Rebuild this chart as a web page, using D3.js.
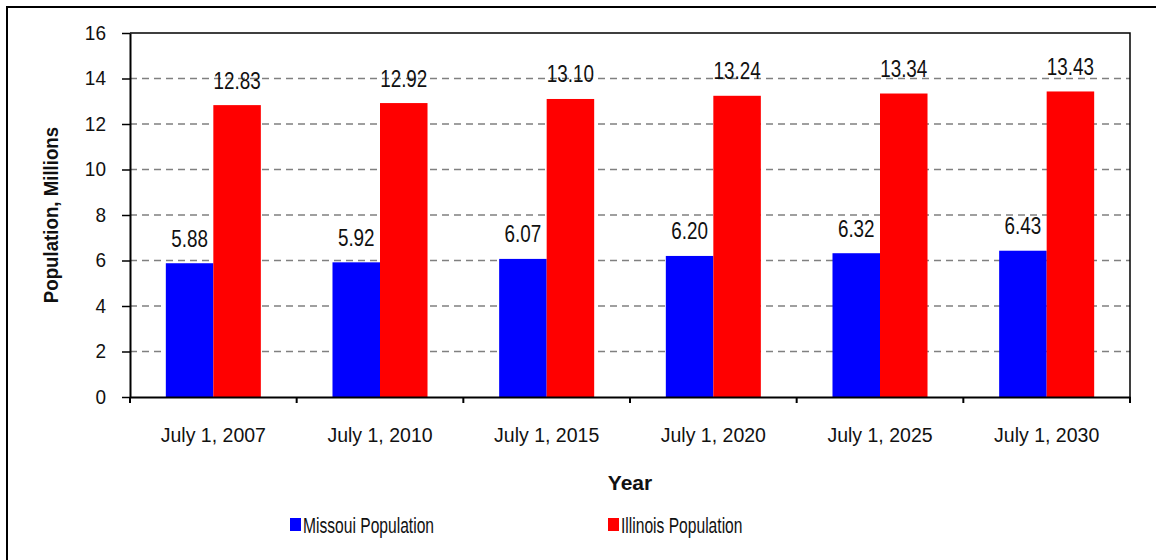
<!DOCTYPE html>
<html>
<head>
<meta charset="utf-8">
<script src="https://cdn.jsdelivr.net/npm/d3@7"></script>
<style>
  body { margin: 0; background: #fff; }
  svg text { font-family: "Liberation Sans", Arial, sans-serif; fill: #111; }
  .axis path, .axis line { stroke: #000; }
</style>
</head>
<body>
<div id="chart"></div>
<script>
var years = ["July 1, 2007", "July 1, 2010", "July 1, 2015", "July 1, 2020", "July 1, 2025", "July 1, 2030"];
var seriesNames = ["Missoui Population", "Illinois Population"];
var missouri = [5.88, 5.92, 6.07, 6.20, 6.32, 6.43];
var illinois = [12.83, 12.92, 13.10, 13.24, 13.34, 13.43];
var yTicks = [0, 2, 4, 6, 8, 10, 12, 14, 16];
var colors = ["#0000ff", "#ff0000"];

var width = 1156, height = 560;
var margin = {top: 33, right: 26, bottom: 163, left: 130};
var graphWidth = width - margin.left - margin.right;
var graphHeight = height - margin.top - margin.bottom;

var rows = years.map(function(y, i) {
  return {year: y, values: [missouri[i], illinois[i]]};
});

var svg = d3.select("#chart").append("svg")
  .attr("width", width)
  .attr("height", height);

// outer frame (only top/left edges fall inside the picture)
svg.append("rect")
  .attr("x", 7).attr("y", 7)
  .attr("width", width + 20).attr("height", height + 20)
  .attr("fill", "none")
  .attr("stroke", "#000")
  .attr("stroke-width", 2);

var g = svg.append("g")
  .attr("transform", "translate(" + margin.left + "," + margin.top + ")");

var x = d3.scaleBand()
  .domain(years)
  .range([0, graphWidth])
  .paddingInner(0);

var xs = d3.scaleBand()
  .domain(seriesNames)
  .range([0, x.bandwidth()])
  .paddingInner(0)
  .paddingOuter(0.754);

var y = d3.scaleLinear()
  .domain([0, 16])
  .range([graphHeight, 0]);

// dashed gridlines
g.selectAll(".grid")
  .data(yTicks.filter(function(d) { return d > 0 && d < 16; }))
  .enter().append("line")
  .attr("class", "grid")
  .attr("x1", 0).attr("x2", graphWidth)
  .attr("y1", d => y(d)).attr("y2", d => y(d))
  .attr("stroke", "#808080")
  .attr("stroke-width", 1.5)
  .attr("stroke-dasharray", "7,5");

// top / right plot border
g.append("path")
  .attr("d", "M0," + y(16) + "H" + graphWidth + "V" + graphHeight)
  .attr("fill", "none")
  .attr("stroke", "#000")
  .attr("stroke-width", 1.5);

// bars
var groups = g.selectAll(".yearGroup")
  .data(rows)
  .enter().append("g")
  .attr("class", "yearGroup")
  .attr("transform", d => "translate(" + x(d.year) + ",0)");

groups.selectAll("rect")
  .data(d => d.values.map((v, i) => ({name: seriesNames[i], value: v, i: i})))
  .enter().append("rect")
  .attr("x", d => xs(d.name))
  .attr("width", xs.bandwidth())
  .attr("y", d => y(d.value))
  .attr("height", d => graphHeight - y(d.value))
  .attr("fill", d => colors[d.i]);

// value labels (narrowed to mimic the condensed face)
groups.selectAll(".valueLabel")
  .data(d => d.values.map((v, i) => ({name: seriesNames[i], value: v})))
  .enter().append("text")
  .attr("class", "valueLabel")
  .attr("transform", d => "translate(" + (xs(d.name) + xs.bandwidth() / 2) + "," + (y(d.value) - 16.5) + ") scale(0.82,1)")
  .attr("text-anchor", "middle")
  .style("font-size", "23px")
  .text(d => d3.format(".2f")(d.value));

// y axis
var yAxis = g.append("g")
  .attr("class", "axis yAxis")
  .call(d3.axisLeft(y)
    .tickValues(yTicks)
    .tickSizeInner(8)
    .tickSizeOuter(0)
    .tickPadding(16));
yAxis.select(".domain").attr("stroke-width", 2);
yAxis.selectAll(".tick line").attr("stroke-width", 1.5);
yAxis.selectAll(".tick text")
  .style("font-size", "20px")
  .attr("transform", "translate(-24,0) scale(0.95,1) translate(24,0)");

// x axis: labels centred in bands, tick marks at band edges
var xAxis = g.append("g")
  .attr("class", "axis xAxis")
  .attr("transform", "translate(0," + graphHeight + ")")
  .call(d3.axisBottom(x).tickSize(0).tickSizeOuter(0).tickPadding(30));
xAxis.select(".domain").attr("stroke-width", 2);
xAxis.selectAll(".tick text")
  .style("font-size", "21px")
  .attr("transform", "scale(0.93,1)");

xAxis.selectAll(".edgeTick")
  .data(years.map(d => x(d)).concat([graphWidth]))
  .enter().append("line")
  .attr("class", "edgeTick")
  .attr("x1", d => d).attr("x2", d => d)
  .attr("y1", 0).attr("y2", 6)
  .attr("stroke", "#000")
  .attr("stroke-width", 2);

// axis titles
g.append("text")
  .attr("transform", "translate(-72," + (graphHeight / 2) + ") rotate(-90) scale(0.89,1)")
  .attr("text-anchor", "middle")
  .style("font-size", "21px")
  .style("font-weight", "bold")
  .text("Population, Millions");

g.append("text")
  .attr("x", graphWidth / 2)
  .attr("y", graphHeight + 93)
  .attr("text-anchor", "middle")
  .style("font-size", "21px")
  .style("font-weight", "bold")
  .text("Year");

// legend
var legendX = [290, 608];
var legend = svg.selectAll(".legendItem")
  .data(seriesNames)
  .enter().append("g")
  .attr("class", "legendItem")
  .attr("transform", (d, i) => "translate(" + legendX[i] + ",518)");

legend.append("rect")
  .attr("width", 11).attr("height", 13)
  .attr("fill", (d, i) => colors[i]);

legend.append("text")
  .attr("transform", "translate(13,14.5) scale(0.71,1)")
  .style("font-size", "22px")
  .text(d => d);
</script>
</body>
</html>
